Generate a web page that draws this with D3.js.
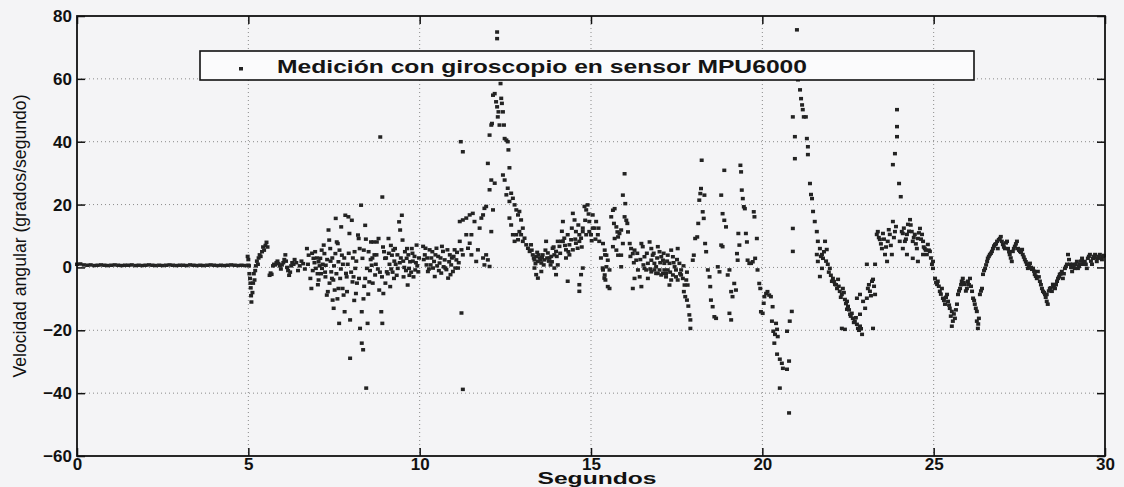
<!DOCTYPE html>
<html>
<head>
<meta charset="utf-8">
<script src="https://cdn.jsdelivr.net/npm/d3@7"></script>
<style>
  html, body { margin: 0; padding: 0; background: #f4f4f6; }
  svg { display: block; }
  .tick text { font-family: "Liberation Sans", Arial, Helvetica, sans-serif; font-weight: bold; font-size: 17px; fill: #111; }
</style>
</head>
<body>
<div id="chart"></div>
<script>

// tick values
var xTicks = [0, 5, 10, 15, 20, 25, 30];
var yTicks = [-60, -40, -20, 0, 20, 40, 60, 80];

// 0 - 5 s: sensor at rest, one reading every 0.1 s
var restStep = 0.1;
var restValues = [1.0, 1.1, 0.8, 0.7, 0.8, 0.6, 0.7, 0.8, 0.7, 0.6, 0.7, 0.8, 0.7, 0.6, 0.7, 0.7, 0.8,
  0.6, 0.7, 0.6, 0.7, 0.8, 0.7, 0.6, 0.7, 0.6, 0.7, 0.8, 0.7, 0.6, 0.7, 0.7, 0.6, 0.8, 0.7, 0.6,
  0.7, 0.6, 0.7, 0.8, 0.7, 0.6, 0.7, 0.6, 0.7, 0.8, 0.7, 0.6, 0.7, 0.6, 0.7];

// [segundos, grados/segundo]
var move05 = [
  [4.98,3.5],[5.0,2.5],[5.02,0.5],[5.03,-2],[5.05,-3.5],[5.06,-5],[5.07,-6.5],[5.08,-9],[5.09,-11],
  [5.12,-8],[5.14,-5],[5.16,-2],[5.18,-4],[5.2,-1],[5.22,0.5],[5.25,2],[5.28,1],[5.3,3],[5.33,4],
  [5.36,3.5],[5.4,5],[5.43,6.5],[5.46,5.5],[5.5,7],[5.53,8],[5.56,6.5],
  [5.62,-2.5],[5.65,-1.8],[5.68,-2.2],[5.72,0.5],[5.75,1],[5.78,0.8],[5.82,1.5],[5.85,2],[5.88,1.2],
  [5.92,0.5],[5.95,-0.5],[5.98,0.8],[6.02,1.5],[6.05,2.5],[6.08,4],[6.1,2],[6.13,0],[6.16,-1],
  [6.19,-2.5],[6.22,-1.5],[6.25,0.5],[6.28,1.5],[6.32,1],[6.35,2.5],[6.4,1.5],[6.45,-1],[6.5,0.5],
  [6.55,2],[6.6,1.2],[6.65,-0.5],
  [6.71,6],[6.76,3.9],[6.81,-3.5],[6.84,-6.7],[6.9,2.9],[6.95,5],[6.97,-0.3],[7.05,1.8],[7.05,-4],
  [7.1,2.9],[7.15,-0.3],[7.2,7.1],[7.22,4.4],[7.26,0.7],[7.29,-8.8],[7.32,-7.7],[7.34,11.9],[7.36,8.7],
  [7.39,6],[7.42,-1.4],[7.44,-3.5],[7.46,-10.4],[7.49,-13],[7.52,-7.2],[7.54,4.4],[7.55,15.6],[7.58,8.1],
  [7.61,7.6],[7.63,1.8],[7.63,-6.7],[7.65,-17.8],[7.68,-3.5],[7.71,12.9],[7.73,3.9],[7.75,-6.7],
  [7.78,-8.8],[7.81,-14.1],[7.83,16.6],[7.85,-1.9],[7.88,-7.7],[7.92,16.1],[7.95,10.8],[7.97,-16.7],
  [7.97,-28.9],[8.02,15],[8.04,-4.6],[8.07,-3],[8.1,5],[8.12,-0.3],[8.14,-8.3],[8.2,10.3],[8.22,9.2],
  [8.23,-3.5],[8.26,-19.4],[8.29,19.8],[8.31,-14.1],[8.31,-24.1],[8.33,2.9],[8.35,-26.2],[8.37,5.5],
  [8.41,13.4],[8.41,-3.5],[8.44,-38.4],[8.46,-0.3],[8.48,-17.8],[8.51,5],[8.53,-4.6],[8.58,8.1],
  [8.6,0.7],[8.65,8.1],[8.7,-2.4],[8.75,8.1],[8.8,9.2],[8.82,-7.2],[8.85,41.5],[8.88,-14.1],[8.91,22.4],
  [8.91,-17.8],[8.94,-8.3],[8.99,2.9],[9.04,-1.4],[9.09,9.2],[9.14,-6.1],[9.19,3.9],[9.23,5.5],[9.28,6],
  [9.36,-0.3],[9.4,14.5],[9.43,11.9],[9.48,16.6],[9.5,8.7],[9.53,-3],[9.57,5],[9.62,2.9],[9.65,-5.6],
  [9.69,-0.3],[9.72,1.8],[9.77,6],[9.82,-3],[9.87,-0.8],[9.91,7.1],[9.96,-1.4],
  [6.88,-1],[6.93,1.5],[7.0,3],[7.02,-2],[7.08,0.5],[7.12,-2],[7.17,1],[7.25,-3],[7.3,2.5],[7.37,-5],
  [7.45,3],[7.5,0.5],[7.57,-2],[7.7,-0.5],[7.8,3],[7.9,1],[8.0,-1.5],[8.15,2],[8.38,-6],[8.55,-1],
  [8.62,3],[8.68,4],[8.72,1],[8.78,-0.5],[8.9,-3],[8.96,5],[9.02,3],[9.07,-2],[9.12,1],[9.17,-0.5],
  [9.21,-1.5],[9.26,2],[9.3,1],[9.33,-2.5],[9.45,3],[9.55,0],[9.6,-1],[9.67,4],[9.75,-1.5],[9.8,2],
  [9.85,3.5],[9.93,0.5],[9.98,3],
  [6.74,1],[6.86,4.5],[7.03,-5.5],[7.14,5.5],[7.24,-1.5],[7.4,2],[7.48,-4],[7.6,-10],[7.66,5.5],
  [7.76,1],[7.87,-3],[7.93,4.5],[8.05,3],[8.09,-10.5],[8.17,-5],[8.25,6],[8.36,-10],[8.43,9],
  [8.5,-8.5],[8.57,2.5],[8.63,-5],[8.74,4],[8.84,-1.5],[8.93,6.5],[9.0,-5],[9.1,4.5],[9.16,7],
  [9.25,-3.5],[9.35,4],[9.42,1.5],[9.52,2],[9.63,6],[9.7,-2.5],[9.79,4.5],[9.89,1.5]
];

var move10 = [
  [10.1,6.7],[10.15,4],[10.2,0.8],[10.24,-1.3],[10.29,5.6],[10.34,3],[10.39,-0.2],[10.44,-2.9],
  [10.49,6.1],[10.54,3.5],[10.58,1.4],[10.63,-1.8],[10.68,5.1],[10.73,2.4],[10.78,-0.7],[10.83,-3.4],
  [10.88,4],[10.92,0.8],[10.97,-1.3],[11.02,5.6],[11.07,2.4],[11.12,-0.2],[11.17,8.3],[11.22,5.6],
  [11.26,4],[10.17,6.1],[10.32,0.8],[10.46,4],[10.61,3],[10.75,-0.2],[10.9,-2.3],[11.04,-0.2],
  [10.65,6.7],[10.42,1.9],[10.22,3],[10.94,3],[10.81,5.6],
  [10.12,2.5],[10.27,-0.5],[10.37,5],[10.51,0.5],[10.56,-1],[10.7,0.2],[10.86,1.8],[10.99,3.5],
  [11.09,4.8],[11.14,1.5],
  [11.2,40],[11.26,36.8],[11.22,-14.5],[11.26,-38.8],
  [11.17,14.6],[11.26,15.1],[11.36,15.7],[11.46,16.7],[11.55,17.2],[11.6,14.6],[11.51,10.4],
  [11.46,7.7],[11.41,6.1],[11.36,10.4],[11.51,4],[11.65,1.9],[11.7,5.6],[11.75,12.5],[11.8,15.7],
  [11.85,16.7],[11.85,3],[11.89,0.8],[11.94,4],[11.99,2.4],[12.04,0.3],[11.89,18.8],[11.94,19.4],
  [12.04,24.7],[12.09,11.4],[12.09,27.8],[12.14,18.3],[12.19,26.8],
  [11.99,33.1],[12.04,42.1],[12.09,45.3],[12.11,45.8],[12.14,54.8],[12.19,55.3],[12.23,52.7],
  [12.26,51.1],[12.28,47.9],[12.3,49.5],[12.33,45.3],[12.38,53.8],[12.4,52.2],[12.43,49.5],
  [12.46,45.3],[12.36,58.5],[12.48,41],[12.53,40.5],[12.57,40],[12.59,37.4],[12.62,31.7],
  [12.26,74.9],[12.26,72.8],
  [12.43,29.4],[12.48,27.8],[12.53,23.1],[12.57,25.2],[12.62,21],[12.67,23.6],[12.72,22],[12.77,19.9],
  [12.82,18.3],[12.87,16.7],[12.91,17.8],[12.96,15.1],[13.01,12.5],[12.62,15.7],[12.67,13.5],
  [12.72,10.4],[12.77,8.3],[12.82,10.4],[12.87,8.8],[12.91,11.4],[12.96,10.4],[13.01,8.3],[13.06,9.3],
  [13.11,7.2],[13.16,6.1],[13.21,5.1],
  [13.25,7.2],[13.3,4],[13.35,2.4],[13.4,3.5],[13.45,1.9],[13.5,3],[13.55,1.4],[13.59,4],[13.64,2.4],
  [13.69,8.3],[13.74,4.6],[13.79,3],[13.84,3.5],[13.88,6.1],[13.93,4],[13.98,5.1],[14.03,8.3],
  [13.35,-0.2],[13.4,-2.3],[13.45,-3.4],[13.55,-1.3],[13.93,-0.2],[13.98,-2.3],[14.03,0.8],
  [14.32,-4.4],[14.66,-5.5],[14.66,-7.6],[14.76,-0.2],[14.71,-2.3],
  [13.33,3],[13.47,4],[13.53,2.4],[13.62,0.8],[13.72,3],[13.82,0.8],
  [13.27,5.5],[13.38,1.2],[13.43,4.8],[13.57,3.2],[13.67,5.5],[13.77,2],[13.86,1.8],[13.91,6.5],
  [14.0,3.5],[14.1,4.5],
  [14.08,6.7],[14.13,8.3],[14.18,14.6],[14.22,9.3],[14.27,5.6],[14.32,10.4],[14.37,7.2],[14.42,8.8],
  [14.47,17.2],[14.52,15.1],[14.56,11.4],[14.61,6.1],[14.66,8.3],[14.71,9.3],[14.76,11.4],[14.81,19.4],
  [14.86,18.3],[14.9,19.9],[14.95,11.4],[15.0,10.4],[15.05,16.7],[15.1,12.5],[15.15,14.6],[15.2,10.4],
  [15.24,8.3],[15.29,3],[15.34,-0.2],[15.39,-3.4],[15.41,4],
  [14.18,8.3],[14.27,3],[14.37,4],[14.47,5.6],[14.56,7.7],[14.66,10.4],[14.76,12.5],[14.86,10.4],
  [14.95,14.6],[15.05,12.5],
  [14.15,11.5],[14.24,7],[14.34,5],[14.44,12.5],[14.54,9],[14.63,13.5],[14.73,6.5],[14.83,15],
  [14.93,17],[15.02,8.5],[15.13,9],[15.22,12.5]
];

var move15 = [
  [15.35,7.6],[15.4,5.5],[15.45,3.9],[15.49,2.3],[15.54,-0.8],[15.45,0.2],[15.35,-0.8],[15.4,-2.4],
  [15.42,-4],[15.49,-6.1],[15.54,-6.7],[15.59,16.1],[15.64,18.2],[15.69,18.7],[15.67,14],[15.74,12.9],
  [15.77,11.3],[15.79,9.7],[15.83,10.8],[15.88,11.9],[15.88,3.9],[15.93,7.6],[15.98,29.8],[15.93,23],
  [16.0,20.3],[15.98,16.1],[16.03,15],[16.06,14],[16.08,11.3],[15.88,0.2],[15.64,6.6],[15.74,5.5],
  [15.79,3.9],[15.69,9.2],
  [16.13,7.6],[16.17,6],[16.22,4.4],[16.27,5.5],[16.32,2.3],[16.37,-0.8],[16.42,-3],[16.27,-3.5],
  [16.47,7.6],[16.51,6.6],[16.56,3.4],[16.61,-0.8],[16.66,-3.5],[16.71,8.1],[16.76,6],[16.8,3.9],
  [16.85,1.3],[16.9,0.2],[16.95,6.6],[17.0,5],[17.05,3.4],[17.1,2.3],[17.14,-0.8],[17.19,-1.9],
  [17.24,3.9],[17.29,1.3],[17.34,5.5],[17.39,3.4],[17.44,0.2],[17.48,-3],[17.53,6],[17.58,1.3],
  [17.63,-0.8],[17.68,-3.5],[17.73,-5.6],[17.78,-4],[17.82,-5.6],[16.22,-6.7],[16.47,-6.1],
  [16.56,-0.3],[16.76,-1.4],[16.9,-1.9],[17.0,-0.8],[17.1,-1.9],[17.19,-3],[17.29,-5.6],[17.34,-4],
  [17.53,-4],[17.63,-2.4],[16.76,2.3],[16.66,1.3],[16.85,-0.8],[16.95,-1.9],[17.05,-2.4],[17.14,1.3],
  [17.24,-0.8],[17.39,-2.4],[17.48,-0.8],
  [16.15,3.5],[16.25,1.5],[16.35,4.5],[16.44,2.5],[16.53,0.8],[16.63,4.5],[16.73,-0.5],[16.83,4.5],
  [16.93,3],[17.02,1.5],[17.12,4.5],[17.22,2],[17.31,-1.5],[17.41,1.5],[17.51,2.5],[17.6,-2],
  [17.7,0.5],[17.8,-1.5],
  [17.71,-7.7],[17.75,-9.3],[17.8,-10.4],[17.84,-12.3],[17.87,-15.1],[17.9,-16.7],[17.9,-19.4],
  [17.97,2.3],[18.0,3.9],[18.04,9.2],[18.1,9.7],[18.13,14],[18.16,21.4],[18.19,23.5],[18.21,25.1],
  [18.23,34.1],[18.26,17.7],[18.29,15.6],[18.31,23],[18.33,7.6],[18.36,5],[18.41,-0.8],[18.46,-3],
  [18.48,-6.1],[18.5,-10.4],[18.55,-12.5],[18.6,-15.7],[18.65,-16.2],[18.7,0.2],[18.75,-1.4],
  [18.8,7.1],[18.84,6.6],[18.8,23],[18.84,17.1],[18.89,15],[18.94,12.9],[18.89,30.9],[18.99,-2.4],
  [19.04,-0.8],[19.09,-7.7],[19.13,-9.3],[19.04,-14.6],[19.09,-16.7],[19.18,-5.1],[19.23,-7.2],
  [19.26,4.4],[19.28,2.3],[19.3,10.8],[19.33,7.1],[19.36,32.5],[19.38,30.4],[19.4,24.6],[19.43,21.9],
  [19.46,19.3],[19.49,18.7],[19.52,10.8],[19.55,8.1],[19.57,2.3],[19.62,1.3],[19.67,1.3],[19.72,1.8],
  [19.75,17.7],[19.77,16.1],[19.79,2.9],[19.84,9.2],[19.86,-0.8],[19.91,-5.1],[19.94,-6.7],
  [19.96,-14.1],[20.01,-14.6],[20.04,-11.4],[20.06,-9.3],[20.11,-8.3],[20.15,-7.7],[20.2,-8.8],
  [20.25,-9.3]
];

var move20 = [
  [20.28,-17.1],[20.32,-20.3],[20.37,-21.3],[20.43,-19.7],[20.43,-27.6],[20.51,-29.2],[20.57,-30.5],
  [20.6,-32.1],[20.72,-32.4],[20.78,-29.8],[20.51,-38.4],[20.78,-46.3],[20.72,-20.3],[20.8,-17.1],
  [20.86,-14],[20.35,-24.1],[20.45,-22],[20.3,-12.5],[20.4,-17.8],
  [20.89,12.4],[20.89,5.1],[20.95,34.6],[20.95,41.6],[20.89,47.9],[21.01,75.6],[21.04,59.7],
  [21.1,56.5],[21.13,53.7],[21.16,51.7],[21.18,50.2],[21.21,47.9],[21.27,47.9],[21.3,41],[21.33,38.4],
  [21.33,35.9],[21.39,26.7],[21.42,23.2],[21.45,21.9],[21.48,17.8],[21.53,14.6],[21.59,11.4],
  [21.62,8.3],[21.68,6],[21.74,4.1],[21.77,2.9],[21.83,8.3],[21.88,5.7],[21.59,4.1],[21.62,1.9],
  [21.68,-2.9],[21.74,-0.3],[21.91,1],[21.97,-0.3],[22.03,-4.4],[22.06,-3.5],[22.12,-5.4],
  [22.18,-6.7],[22.21,-3.8],[22.26,-7.6],[22.32,-8.6],[22.35,-6.7],[22.41,-10.2],[22.47,-10.8],
  [22.47,-13.3],[22.5,-12.4],[22.56,-14.9],[22.61,-14.6],[22.64,-16.2],[22.7,-17.1],[22.76,-18.1],
  [22.79,-19.4],[22.85,-18.7],[22.91,-21.3],[22.85,-14.9],[22.32,-19.4],[22.41,-19.7],[22.76,-9.8],
  [22.85,-8.6],[22.94,-10.8],[23.0,-13],[23.05,-9.8],[23.08,-6.7],[23.14,-7.6],[23.2,-4.4],
  [23.23,-3.8],[23.29,-8.6],[23.23,-19.4],[23.05,1],[23.29,1],
  [21.71,3.5],[21.8,5],[21.86,2],[21.94,-1.5],[22.0,-2.5],[22.09,-4.5],[22.15,-5.5],[22.23,-6],
  [22.29,-9.5],[22.38,-8],[22.44,-11.5],[22.53,-13.5],[22.58,-15.5],[22.67,-17.5],[22.73,-16],
  [22.82,-20],[22.88,-19.5],[23.11,-5.5],[23.17,-9],[23.26,-6],
  [23.34,10.5],[23.37,11.4],[23.43,8.9],[23.49,6],[23.52,10.8],[23.58,4.1],[23.64,1.9],[23.66,8.3],
  [23.72,10.5],[23.78,4.1],[23.81,14.6],[23.87,11.4],[23.81,32.7],[23.87,36.2],[23.93,41.6],
  [23.93,44.8],[23.93,50.2],[23.99,26.7],[24.04,22.5],[24.07,11.4],[24.1,10.8],[24.16,8.3],
  [24.22,10.5],[24.25,13.7],[24.31,15.2],[24.36,11.4],[24.39,8.3],[24.45,10.5],[24.51,6],[24.54,9.2],
  [24.6,12.4],[24.66,10.5],[24.69,8.3],[24.74,6],[24.8,4.1],[24.83,7.3],[24.89,5.1],[24.95,1],
  [24.98,1.9],[24.1,6],[24.22,4.1],[24.39,2.9],[24.54,1.9],[24.69,4.1],[24.01,8.3],
  [23.4,9.5],[23.46,7.5],[23.55,9],[23.61,6.5],[23.69,12],[23.75,7],[23.84,9.5],[23.9,13],
  [24.13,12.5],[24.19,9],[24.28,11.5],[24.33,13.5],[24.42,9.5],[24.48,7.5],[24.57,11],[24.63,9],
  [24.71,6.5],[24.77,5.5],[24.86,5.5],[24.92,3]
];

var move25 = [
  [24.98,-0.3],[25.04,-3.5],[25.1,-5.4],[25.12,-4.4],[25.18,-7.6],[25.24,-6.7],[25.27,-9.8],
  [25.33,-11.7],[25.39,-8.6],[25.42,-10.8],[25.47,-13],[25.53,-14],[25.56,-17.1],[25.62,-16.2],
  [25.53,-18.7],[25.68,-11.7],[25.71,-8.6],[25.77,-6.7],[25.82,-4.4],[25.85,-3.5],[25.91,-5.4],
  [25.97,-6.7],[26.0,-4.4],[26.06,-3.5],[26.12,-7.6],[26.15,-9.8],[26.2,-11.7],[26.26,-14],
  [26.26,-17.1],[26.29,-19.4],[26.32,-16.2],[26.35,-8.6],[26.41,-6.7],[26.44,-2.2],[26.5,-0.3],
  [26.56,1.9],[26.58,2.9],[26.64,4.1],[26.7,5.1],[26.73,6],[26.79,7.3],[26.85,8.3],[26.87,6],
  [26.93,9.2],[26.99,8.3],[27.02,7.3],[27.08,6],[27.14,8.3],[27.17,6],[27.22,4.1],[27.28,1.9],
  [27.31,5.1],[27.37,6.7],[27.43,8.3],[27.46,6],[27.52,5.1],[27.58,5.7],[27.6,4.1],[27.66,2.5],
  [27.72,1],[27.75,-0.3],[27.81,1.3],[27.87,-0.6],[27.9,-0.3],[27.95,-2.2],[28.01,-3.5],[28.04,-1.3],
  [28.1,-4.4],[28.16,-6.7],[28.19,-7.6],[28.25,-8.6],[28.3,-10.8],[28.33,-11.7],[28.3,-8.6],
  [28.39,-6.7],[28.45,-7.6],[28.48,-5.4],[28.54,-6.7],[28.6,-4.4],[28.63,-3.5],[28.68,-2.2],
  [28.74,-1.3],[28.77,-3.5],[28.83,-0.3],[28.89,1],[28.92,4.1],[28.98,1],[29.04,-1.3],[29.06,1],
  [29.12,-0.3],[29.18,1.9],[29.21,-0.3],[29.27,1],[29.33,2.9],[29.36,1],[29.41,1.9],[29.47,-0.3],
  [29.5,2.9],[29.56,4.1],[29.62,1],[29.65,2.9],[29.71,4.1],[29.76,1.9],[29.79,2.9],[29.85,4.1],
  [29.91,2.5],[29.94,3.5],
  [25.07,-4.8],[25.15,-6],[25.21,-8.5],[25.3,-10.5],[25.36,-9.5],[25.45,-12],[25.5,-15.5],
  [25.59,-14.8],[25.65,-13.5],[25.74,-7.5],[25.8,-5.5],[25.88,-4.8],[25.94,-7.5],[26.03,-5.5],
  [26.09,-6],[26.18,-10.5],[26.23,-13],[26.3,-18],[26.38,-7.5],[26.47,-1],[26.53,0.8],[26.61,3.5],
  [26.67,4.5],[26.76,6.8],[26.82,7.5],[26.9,8.8],[26.96,9.8],[27.05,6.5],[27.11,7.8],[27.2,5],
  [27.25,3],[27.34,6],[27.4,7.5],[27.49,5.5],[27.55,4.8],[27.63,3.3],[27.69,1.8],[27.78,0.5],
  [27.84,0],[27.93,-1.2],[27.98,-2.8],[28.07,-3],[28.13,-5.5],[28.22,-8],[28.27,-9.5],[28.36,-7.5],
  [28.42,-6.5],[28.51,-6],[28.57,-5.5],[28.66,-3],[28.71,-2],[28.8,-2],[28.86,0.3],[28.95,2.5],
  [29.01,0],[29.09,0.5],[29.15,1],[29.24,0.3],[29.3,2],[29.39,1.5],[29.44,1],[29.53,3.5],[29.59,2],
  [29.68,3.5],[29.74,3],[29.82,3.5],[29.88,3],[29.97,3.8]
];

var width = 1124, height = 487;
var margin = { left: 77, right: 19, top: 16, bottom: 31 };

var x = d3.scaleLinear().domain([0, 30]).range([margin.left, width - margin.right]);
var y = d3.scaleLinear().domain([-60, 80]).range([height - margin.bottom, margin.top]);

var svg = d3.select("#chart").append("svg")
  .attr("width", width)
  .attr("height", height);

svg.append("rect")
  .attr("width", width).attr("height", height)
  .attr("fill", "#f4f4f6");

// dotted grid
var grid = svg.append("g")
  .attr("stroke", "#8a8a8a")
  .attr("stroke-width", 1)
  .attr("stroke-dasharray", "1,3");

grid.selectAll("line.gx")
  .data(xTicks.slice(1, -1))
  .enter().append("line")
  .attr("class", "gx")
  .attr("x1", function(d) { return x(d); })
  .attr("x2", function(d) { return x(d); })
  .attr("y1", y(80)).attr("y2", y(-60));

grid.selectAll("line.gy")
  .data(yTicks.slice(1, -1))
  .enter().append("line")
  .attr("class", "gy")
  .attr("x1", x(0)).attr("x2", x(30))
  .attr("y1", function(d) { return y(d); })
  .attr("y2", function(d) { return y(d); });

// samples
var points = restValues.map(function(v, i) { return [i * restStep, v]; })
  .concat(move05, move10, move15, move20, move25);

svg.append("g")
  .attr("fill", "#232323")
  .selectAll("rect")
  .data(points)
  .enter().append("rect")
  .attr("x", function(d) { return x(d[0]) - 2; })
  .attr("y", function(d) { return y(d[1]) - 1.75; })
  .attr("width", 4)
  .attr("height", 3.5);

// axes, ticks pointing in like matlab
var plotH = y(-60) - y(80), plotW = x(30) - x(0);

svg.append("g")
  .attr("transform", "translate(0," + y(-60) + ")")
  .call(d3.axisBottom(x).tickValues(xTicks).tickSizeInner(-8).tickSizeOuter(0).tickPadding(2));

svg.append("g")
  .attr("transform", "translate(0," + y(80) + ")")
  .call(d3.axisTop(x).tickValues(xTicks).tickSizeInner(-8).tickSizeOuter(0).tickFormat(""));

svg.append("g")
  .attr("transform", "translate(" + x(0) + ",0)")
  .call(d3.axisLeft(y).tickValues(yTicks).tickSizeInner(-8).tickSizeOuter(0).tickPadding(5));

svg.append("g")
  .attr("transform", "translate(" + x(30) + ",0)")
  .call(d3.axisRight(y).tickValues(yTicks).tickSizeInner(-8).tickSizeOuter(0).tickFormat(""));

svg.selectAll(".domain").remove();
svg.selectAll(".tick line").attr("stroke", "#111").attr("stroke-width", 1.5);

svg.append("rect")
  .attr("x", x(0)).attr("y", y(80))
  .attr("width", plotW).attr("height", plotH)
  .attr("fill", "none")
  .attr("stroke", "#111")
  .attr("stroke-width", 1.8);

// legend
var legend = svg.append("g");
legend.append("rect")
  .attr("x", 200).attr("y", 51)
  .attr("width", 774).attr("height", 29)
  .attr("fill", "#fbfbfc")
  .attr("stroke", "#111")
  .attr("stroke-width", 1.6);
legend.append("rect")
  .attr("x", 239).attr("y", 67)
  .attr("width", 4).attr("height", 3.5)
  .attr("fill", "#232323");
legend.append("text")
  .attr("x", 277).attr("y", 73)
  .attr("font-family", "Liberation Sans, Arial, Helvetica, sans-serif")
  .attr("font-weight", "bold")
  .attr("font-size", 19)
  .attr("fill", "#151515")
  .attr("textLength", 530)
  .attr("lengthAdjust", "spacingAndGlyphs")
  .text("Medición con giroscopio en sensor MPU6000");

// axis titles
svg.append("text")
  .attr("x", 597).attr("y", 484)
  .attr("text-anchor", "middle")
  .attr("font-family", "Liberation Sans, Arial, Helvetica, sans-serif")
  .attr("font-weight", "bold")
  .attr("font-size", 16.5)
  .attr("fill", "#111")
  .attr("textLength", 119)
  .attr("lengthAdjust", "spacingAndGlyphs")
  .text("Segundos");

svg.append("text")
  .attr("transform", "translate(26,236) rotate(-90)")
  .attr("text-anchor", "middle")
  .attr("font-family", "Liberation Sans Narrow, Arial Narrow, Liberation Sans, sans-serif")
  .attr("font-size", 19)
  .attr("fill", "#111")
  .attr("textLength", 283)
  .attr("lengthAdjust", "spacingAndGlyphs")
  .text("Velocidad angular (grados/segundo)");

</script>
</body>
</html>
